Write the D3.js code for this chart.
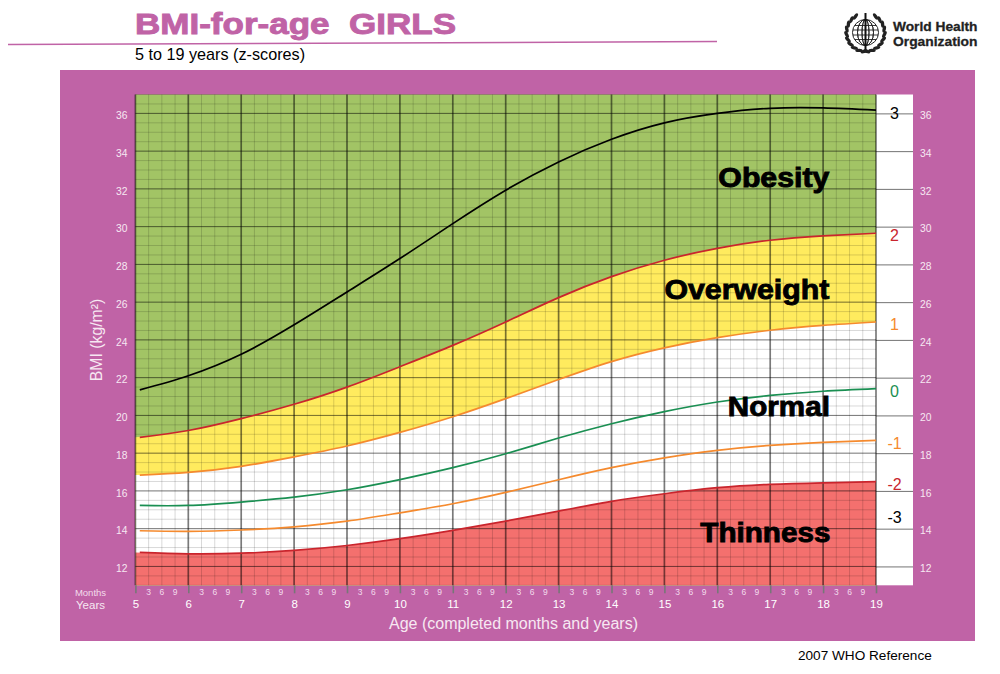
<!DOCTYPE html>
<html>
<head>
<meta charset="utf-8">
<title>BMI-for-age GIRLS</title>
<script src="https://cdn.jsdelivr.net/npm/d3@7"></script>
<style>
  body { margin: 0; background: #fff; }
  text { font-family: "Liberation Sans", Arial, sans-serif; }
</style>
</head>
<body>
<div id="chart"></div>
<script>
// values
var ages   = [5.083, 6, 7, 8, 9, 10, 11, 12, 13, 14, 15, 16, 17, 18, 19];
var zPlus3 = [21.35, 22.1, 23.24, 24.8, 26.54, 28.31, 30.16, 31.93, 33.43, 34.63, 35.5, 36.0, 36.27, 36.29, 36.17];
var zPlus2 = [18.84, 19.2, 19.83, 20.59, 21.5, 22.58, 23.71, 24.95, 26.24, 27.35, 28.22, 28.85, 29.28, 29.51, 29.65];
var zPlus1 = [16.84, 16.98, 17.3, 17.8, 18.38, 19.1, 19.93, 20.89, 21.9, 22.85, 23.58, 24.12, 24.51, 24.77, 24.95];
var zZero  = [15.23, 15.23, 15.41, 15.67, 16.06, 16.6, 17.23, 17.97, 18.8, 19.56, 20.2, 20.71, 21.06, 21.28, 21.42];
var zMinus1 = [13.89, 13.86, 13.93, 14.1, 14.4, 14.84, 15.32, 15.92, 16.59, 17.23, 17.75, 18.15, 18.41, 18.57, 18.68];
var zMinus2 = [12.74, 12.67, 12.7, 12.85, 13.11, 13.47, 13.91, 14.4, 14.93, 15.45, 15.85, 16.17, 16.35, 16.43, 16.49];

var yearTicks = [5, 6, 7, 8, 9, 10, 11, 12, 13, 14, 15, 16, 17, 18, 19];
var monthTicks = [3, 6, 9];
var bmiTicks = [12, 14, 16, 18, 20, 22, 24, 26, 28, 30, 32, 34, 36];
var zLabels = ["3", "2", "1", "0", "-1", "-2", "-3"];
var zLabelBmi = [36.02, 29.55, 24.83, 21.28, 18.54, 16.35, 14.58];

var pink = "#c063a6";

var svg = d3.select("#chart")
  .append("svg")
    .attr("width", 1000)
    .attr("height", 674)
    .style("display", "block");

// scales
var x = d3.scaleLinear().domain([5, 19]).range([135.4, 876]);
var y = d3.scaleLinear().domain([11, 37]).range([585.3, 94.5]);

// page heading
svg.append("text")
  .attr("x", 135).attr("y", 34)
  .attr("xml:space", "preserve")
  .attr("textLength", 321).attr("lengthAdjust", "spacingAndGlyphs")
  .style("font-size", "29px").style("font-weight", "bold")
  .attr("fill", pink).attr("stroke", pink).attr("stroke-width", 0.9)
  .text("BMI-for-age  GIRLS");
svg.append("line")
  .attr("x1", 8).attr("y1", 44.5).attr("x2", 717).attr("y2", 41.5)
  .attr("stroke", pink).attr("stroke-width", 1.5);
svg.append("text")
  .attr("x", 135).attr("y", 59.5)
  .style("font-size", "16.2px")
  .text("5 to 19 years (z-scores)");

// logo: globe, staff and wreath
var logo = svg.append("g").attr("transform", "translate(865.5,32.5)");
logo.append("circle").attr("r", 13).attr("fill", "#fff").attr("stroke", "#222").attr("stroke-width", 1);
[-8, -3.5, 3.5, 8].forEach(function(m) {
  logo.append("ellipse").attr("rx", Math.abs(m)).attr("ry", 13)
    .attr("fill", "none").attr("stroke", "#222").attr("stroke-width", 0.9);
});
[-7, -2.5, 2.5, 7].forEach(function(p) {
  var half = Math.sqrt(13 * 13 - p * p);
  logo.append("line").attr("x1", -half).attr("x2", half).attr("y1", p).attr("y2", p)
    .attr("stroke", "#222").attr("stroke-width", 0.9);
});
logo.append("line").attr("x1", 0).attr("x2", 0).attr("y1", -19.5).attr("y2", 18.5)
  .attr("stroke", "#111").attr("stroke-width", 2);
[-1, 1].forEach(function(side) {
  d3.range(0, 10).forEach(function(i) {
    var a = (-58 + i * 16) * Math.PI / 180;
    logo.append("ellipse")
      .attr("rx", 1.7).attr("ry", 3.7)
      .attr("transform", "translate(" + (side * 19 * Math.cos(a)) + "," + (19 * Math.sin(a)) + ") rotate(" + (side * (a * 180 / Math.PI + 22)) + ")")
      .attr("fill", "#222");
  });
});
svg.append("text").attr("x", 893).attr("y", 31.2)
  .attr("textLength", 84.5).attr("lengthAdjust", "spacingAndGlyphs")
  .style("font-size", "13.6px").style("font-weight", "bold").attr("fill", "#222")
  .attr("stroke", "#222").attr("stroke-width", 0.3)
  .text("World Health");
svg.append("text").attr("x", 893).attr("y", 45.7)
  .attr("textLength", 84.5).attr("lengthAdjust", "spacingAndGlyphs")
  .style("font-size", "13.6px").style("font-weight", "bold").attr("fill", "#222")
  .attr("stroke", "#222").attr("stroke-width", 0.3)
  .text("Organization");

// purple panel and white strip on the right
svg.append("rect")
  .attr("x", 60).attr("y", 70).attr("width", 915).attr("height", 571)
  .attr("fill", pink);
svg.append("rect")
  .attr("x", x(19)).attr("y", y(37)).attr("width", 37).attr("height", y(11) - y(37))
  .attr("fill", "#fff");

// colour bands, each one painted over the one above it
function bandUnder(values) {
  return d3.area()
    .curve(d3.curveNatural)
    .x(function(d, i) { return i == 0 ? x(5) : x(ages[i]); })
    .y0(y(11))
    .y1(function(d) { return y(d); })(values);
}
svg.append("rect")
  .attr("x", x(5)).attr("y", y(37)).attr("width", x(19) - x(5)).attr("height", y(11) - y(37))
  .attr("fill", "#a2c465");
svg.append("path").attr("d", bandUnder(zPlus2)).attr("fill", "#ffeb5e");
svg.append("path").attr("d", bandUnder(zPlus1)).attr("fill", "#fff");
svg.append("path").attr("d", bandUnder(zMinus2)).attr("fill", "#f4706e");

// grid
var grid = svg.append("g");
grid.selectAll(".minorH")
  .data(d3.range(11, 37.01, 0.5).filter(function(d) { return d % 2 != 0 || d < 12; }))
  .enter().append("line")
    .attr("x1", x(5)).attr("x2", x(19))
    .attr("y1", function(d) { return y(d); })
    .attr("y2", function(d) { return y(d); })
    .attr("stroke", "#000").attr("stroke-opacity", 0.22).attr("stroke-width", 0.7);
grid.selectAll(".minorV")
  .data(d3.range(5, 19, 0.25).filter(function(d) { return d % 1 != 0; }))
  .enter().append("line")
    .attr("x1", function(d) { return x(d); })
    .attr("x2", function(d) { return x(d); })
    .attr("y1", y(37)).attr("y2", y(11))
    .attr("stroke", "#000").attr("stroke-opacity", 0.22).attr("stroke-width", 0.7);
grid.selectAll(".majorH")
  .data(bmiTicks)
  .enter().append("line")
    .attr("x1", x(5)).attr("x2", x(19))
    .attr("y1", function(d) { return y(d); })
    .attr("y2", function(d) { return y(d); })
    .attr("stroke", "#000").attr("stroke-opacity", 0.55).attr("stroke-width", 1);

// x axis: year lines run through the plot and stick out below it
var yearAxis = svg.append("g")
  .attr("transform", "translate(0," + y(11) + ")")
  .call(d3.axisBottom(x).tickValues(yearTicks).tickFormat(d3.format("d")).tickSize(8).tickPadding(7));
yearAxis.select(".domain").remove();
yearAxis.selectAll("text").attr("fill", "#fff").style("font-size", "11.5px");
yearAxis.selectAll("line").attr("stroke", "#777").attr("stroke-width", 1.6);

grid.selectAll(".majorV")
  .data(yearTicks)
  .enter().append("line")
    .attr("x1", function(d) { return x(d); })
    .attr("x2", function(d) { return x(d); })
    .attr("y1", y(37)).attr("y2", y(11))
    .attr("stroke", "#000").attr("stroke-opacity", 0.52).attr("stroke-width", 1.7);

// month labels under each year
yearTicks.slice(0, -1).forEach(function(yr) {
  svg.selectAll(".m" + yr)
    .data(monthTicks)
    .enter().append("text")
      .attr("x", function(d) { return x(yr + d / 12); })
      .attr("y", 595)
      .attr("text-anchor", "middle")
      .attr("fill", "#f3dcec")
      .style("font-size", "8.5px")
      .text(function(d) { return d; });
});
svg.append("text").attr("x", 90.5).attr("y", 595.5).attr("text-anchor", "middle")
  .attr("fill", "#f3dcec").style("font-size", "9.5px").text("Months");
svg.append("text").attr("x", 90.5).attr("y", 609).attr("text-anchor", "middle")
  .attr("fill", "#f7e8f2").style("font-size", "11.5px").text("Years");

// y axes
var leftAxis = svg.append("g")
  .attr("transform", "translate(" + x(5) + ",0)")
  .call(d3.axisLeft(y).tickValues(bmiTicks).tickSize(0).tickPadding(8));
leftAxis.select(".domain").remove();
leftAxis.selectAll("text").attr("fill", "#f7e8f2").attr("dy", "0.5em").style("font-size", "10.3px");

var rightAxis = svg.append("g")
  .attr("transform", "translate(" + x(19) + ",0)")
  .call(d3.axisRight(y).tickValues(bmiTicks).tickSize(37).tickPadding(7));
rightAxis.select(".domain").remove();
rightAxis.selectAll("text").attr("fill", "#f7e8f2").attr("dy", "0.5em").style("font-size", "10.3px");
rightAxis.selectAll("line").attr("stroke", "#000").attr("stroke-opacity", 0.55);

// axis titles
svg.append("text")
  .attr("transform", "translate(101.5,340) rotate(-90)")
  .attr("text-anchor", "middle").attr("fill", "#f7e8f2")
  .style("font-size", "15.8px")
  .text("BMI (kg/m²)");
svg.append("text")
  .attr("x", 513.5).attr("y", 629)
  .attr("text-anchor", "middle").attr("fill", "#f7e8f2")
  .style("font-size", "16px")
  .text("Age (completed months and years)");

// z-score curves
var curve = d3.line()
  .curve(d3.curveNatural)
  .x(function(d, i) { return x(ages[i]); })
  .y(function(d) { return y(d); });

var lineColours = ["#000", "#c9252d", "#f58a2e", "#1a8f52", "#f58a2e", "#c9252d"];
[zPlus3, zPlus2, zPlus1, zZero, zMinus1, zMinus2].forEach(function(values, i) {
  svg.append("path")
    .attr("d", curve(values))
    .attr("fill", "none")
    .attr("stroke", lineColours[i])
    .attr("stroke-width", 1.7);
});

// z-score labels in the white strip
var labelColours = ["#000", "#c9252d", "#f58a2e", "#1a8f52", "#f58a2e", "#c9252d", "#000"];
svg.selectAll(".zlabel")
  .data(zLabels)
  .enter().append("text")
    .attr("x", 894.5)
    .attr("y", function(d, i) { return y(zLabelBmi[i]); })
    .attr("dy", "0.36em")
    .attr("text-anchor", "middle")
    .attr("fill", function(d, i) { return labelColours[i]; })
    .style("font-size", "16px")
    .text(function(d) { return d; });

// category names
var zoneNames = ["Obesity", "Overweight", "Normal", "Thinness"];
var zoneBmi = [32.08, 26.15, 19.97, 13.3];
var zoneAge = [16.02, 15.0, 16.2, 15.68];
var zoneWidth = [111, 165, 102, 130];
svg.selectAll(".zone")
  .data(zoneNames)
  .enter().append("text")
    .attr("x", function(d, i) { return x(zoneAge[i]); })
    .attr("y", function(d, i) { return y(zoneBmi[i]); })
    .attr("textLength", function(d, i) { return zoneWidth[i]; })
    .attr("lengthAdjust", "spacingAndGlyphs")
    .attr("stroke", "#000").attr("stroke-width", 0.9)
    .style("font-size", "27.5px").style("font-weight", "bold")
    .text(function(d) { return d; });

// footer
svg.append("text")
  .attr("x", 798).attr("y", 660)
  .style("font-size", "13.6px")
  .text("2007 WHO Reference");
</script>
</body>
</html>
